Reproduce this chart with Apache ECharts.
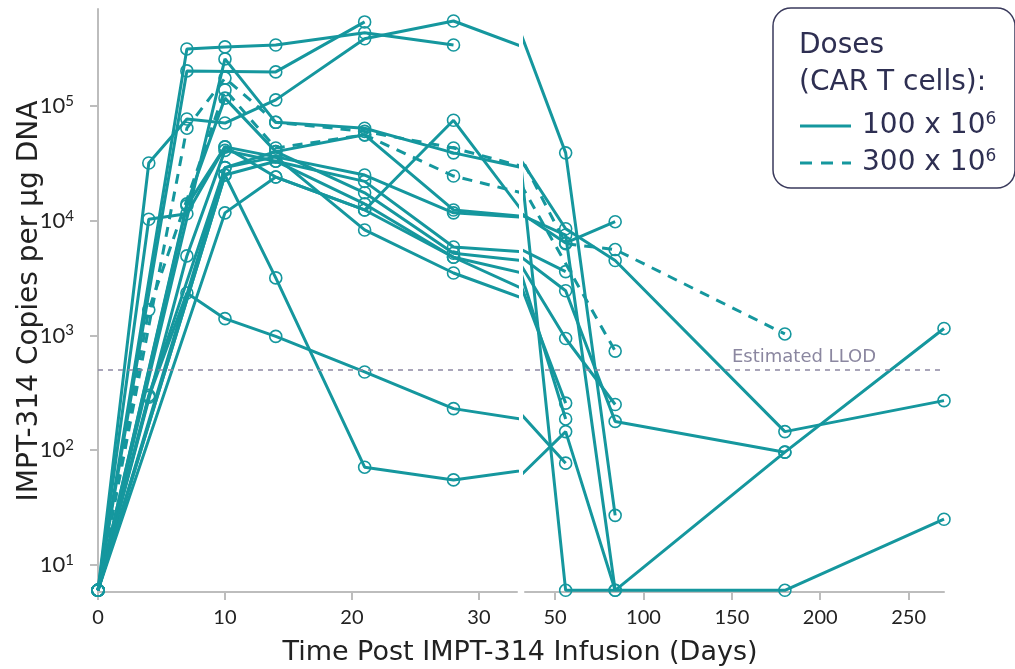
<!DOCTYPE html>
<html><head><meta charset="utf-8">
<script src="https://cdn.jsdelivr.net/npm/echarts@6/dist/echarts.min.js"></script>
<style>html,body{margin:0;padding:0;background:#fff}#c{width:1015px;height:669px}</style>
</head><body><div id="c"></div>
<script>
// ---- data ----
const days = [0, 4, 7, 10, 14, 21, 28, 56, 84, 180, 270];
const s01 = [6, 31800, 77000, 71000, 113000, 385000, 550000, 39000, 27, null, null];
const s02 = [6, null, 314000, 327000, 340000, 435000, 340000, null, null, null, null];
const s03 = [6, null, 202000, null, 198000, 540000, null, null, null, null, null];
const s04 = [6, null, 64000, 175000, 72000, 60000, 43000, 6300, 5600, 1030, null];
const s05 = [6, 1670, null, 138000, 43000, 56000, 24500, null, 730, null, null];
const s06 = [6, null, null, 257000, 72000, 64000, 39000, 8500, 4500, 145, 270];
const s07 = [6, null, 14000, 117000, 40000, 56000, 12400, 6400, 9800, null, null];
const s08 = [6, 10300, 11500, 44000, 36000, 25000, 11700, 7500, 6, null, null];
const s09 = [6, null, 4930, 41000, 33000, 22000, 5900, 3600, null, null, null];
const s10 = [6, null, null, 29000, 40000, 17500, 5200, 2450, 178, 96, null];
const s11 = [6, null, null, 25000, 33000, 14000, 4800, 940, 250, null, null];
const s12 = [6, null, null, 11700, 24000, 12400, 75000, 6, null, 6, 25];
const s13 = [6, 300, null, 29000, 36000, 8300, 3500, 257, null, null, null];
const s14 = [6, 290, 2340, 1400, 980, 480, 230, 77, null, null, null];
const s15 = [6, null, null, 25000, 3170, 71, 55, 145, 6, 96, 1150];
const s16 = [6, null, 13500, 44000, 24000, 12400, 4800, 187, null, null, null];
const dose100 = [s01, s02, s03, s06, s07, s08, s09, s10, s11, s12, s13, s14, s15, s16];
const dose300 = [s04, s05];
const xTicksLeft = [0, 10, 20, 30];
const xTicksRight = [50, 100, 150, 200, 250];
const yTicks = [10, 100, 1000, 10000, 100000];
const llod = 500;

// ---- chart ----
const TEAL = '#15979e';
const FONT = 'Lato, "Open Sans", sans-serif';
const WFONT = '"DejaVu Sans", sans-serif';
const INK = '#2e2f52';
const chart = echarts.init(document.getElementById('c'), null, {renderer: 'canvas'});

function pairs(arr) {
  const out = [];
  arr.forEach((v, i) => { if (v !== null) out.push([days[i], v]); });
  return out;
}
const series = [];
function addSubject(arr, dashed) {
  [0, 1].forEach(g => {
    series.push({
      type: 'line', xAxisIndex: g, yAxisIndex: g, data: pairs(arr),
      clip: true, silent: true, animation: false,
      symbol: 'circle', symbolSize: 12,
      lineStyle: {color: TEAL, width: 3, type: dashed ? [10, 8] : 'solid'},
      itemStyle: {color: 'rgba(255,255,255,0)', borderColor: TEAL, borderWidth: 1.6},
      z: 3
    });
  });
}
dose100.forEach(a => addSubject(a, false));
dose300.forEach(a => addSubject(a, true));
[0, 1].forEach(g => {
  series.push({
    type: 'line', xAxisIndex: g, yAxisIndex: g, data: [], silent: true,
    markLine: {
      silent: true, symbol: ['none', 'none'], animation: false,
      label: {show: false},
      lineStyle: {color: '#8d88a3', type: [5, 5], width: 1.6},
      data: [{yAxis: llod}]
    },
    z: 2
  });
});

const axisLineStyle = {color: '#bdbdbd', width: 2};
const xAxisCommon = {
  type: 'value',
  axisLine: {show: true, lineStyle: axisLineStyle},
  axisTick: {show: true, length: 8, lineStyle: axisLineStyle},
  splitLine: {show: false},
  axisLabel: {fontFamily: FONT, fontSize: 20, color: '#222', margin: 16}
};
const yCommon = {
  type: 'log', logBase: 10, min: 5.8, max: 700000,
  splitLine: {show: false}
};
const supRich = {s: {fontSize: 17, fontFamily: WFONT, fill: INK, verticalAlign: 'top', padding: [0, 0, 13, 0]}};

chart.setOption({
  animation: false,
  backgroundColor: '#fff',
  grid: [
    {left: 98, top: 9, width: 419, height: 583},
    {left: 525, top: 9, width: 419, height: 583}
  ],
  xAxis: [
    Object.assign({}, xAxisCommon, {gridIndex: 0, min: 0, max: 33,
      axisTick: Object.assign({}, xAxisCommon.axisTick, {customValues: xTicksLeft}),
      axisLabel: Object.assign({}, xAxisCommon.axisLabel, {customValues: xTicksLeft})}),
    Object.assign({}, xAxisCommon, {gridIndex: 1, min: 33, max: 270,
      axisTick: Object.assign({}, xAxisCommon.axisTick, {customValues: xTicksRight}),
      axisLabel: Object.assign({}, xAxisCommon.axisLabel, {customValues: xTicksRight})})
  ],
  yAxis: [
    Object.assign({}, yCommon, {gridIndex: 0,
      axisLine: {show: true, lineStyle: axisLineStyle},
      axisTick: {show: true, length: 8, lineStyle: axisLineStyle, customValues: yTicks},
      axisLabel: {
        customValues: yTicks, margin: 24, color: '#222',
        formatter: v => '{b|10}{s|' + Math.round(Math.log10(v)) + '}',
        rich: {
          b: {fontFamily: FONT, fontSize: 22, color: '#222'},
          s: {fontFamily: FONT, fontSize: 15, color: '#222', verticalAlign: 'top', padding: [0, 0, 10, 0]}
        }
      }}),
    Object.assign({}, yCommon, {gridIndex: 1,
      axisLine: {show: false}, axisTick: {show: false}, axisLabel: {show: false}})
  ],
  series: series,
  graphic: [
    {type: 'text', x: 520, y: 653, style: {text: 'Time Post IMPT-314 Infusion (Days)', fontFamily: WFONT, fontSize: 27, fill: '#222', align: 'center', verticalAlign: 'middle'}},
    {type: 'text', x: 30, y: 301, rotation: Math.PI / 2, style: {text: 'IMPT-314 Copies per \u00b5g DNA', fontFamily: WFONT, fontSize: 28, fill: '#222', align: 'center', verticalAlign: 'middle'}},
    {type: 'text', x: 804, y: 357, style: {text: 'Estimated LLOD', fontFamily: WFONT, fontSize: 18, fill: '#8b87a0', align: 'center', verticalAlign: 'middle'}},
    {type: 'rect', shape: {x: 773, y: 8, width: 242, height: 180, r: 18}, style: {fill: '#fff', stroke: '#3a3a5c', lineWidth: 1.5}, z: 10},
    {type: 'text', x: 799, y: 46, z: 11, style: {text: 'Doses', fontFamily: WFONT, fontSize: 28, fill: INK, verticalAlign: 'middle'}},
    {type: 'text', x: 799, y: 83, z: 11, style: {text: '(CAR T cells):', fontFamily: WFONT, fontSize: 28, fill: INK, verticalAlign: 'middle'}},
    {type: 'line', z: 11, shape: {x1: 800, y1: 126, x2: 851, y2: 126}, style: {stroke: TEAL, lineWidth: 3}},
    {type: 'line', z: 11, shape: {x1: 800, y1: 163, x2: 851, y2: 163}, style: {stroke: TEAL, lineWidth: 3, lineDash: [12, 9]}},
    {type: 'text', x: 862, y: 126, z: 11, style: {text: '100 x 10{s|6}', rich: supRich, fontFamily: WFONT, fontSize: 28, fill: INK, verticalAlign: 'middle'}},
    {type: 'text', x: 862, y: 163, z: 11, style: {text: '300 x 10{s|6}', rich: supRich, fontFamily: WFONT, fontSize: 28, fill: INK, verticalAlign: 'middle'}}
  ]
});
</script>
</body></html>
